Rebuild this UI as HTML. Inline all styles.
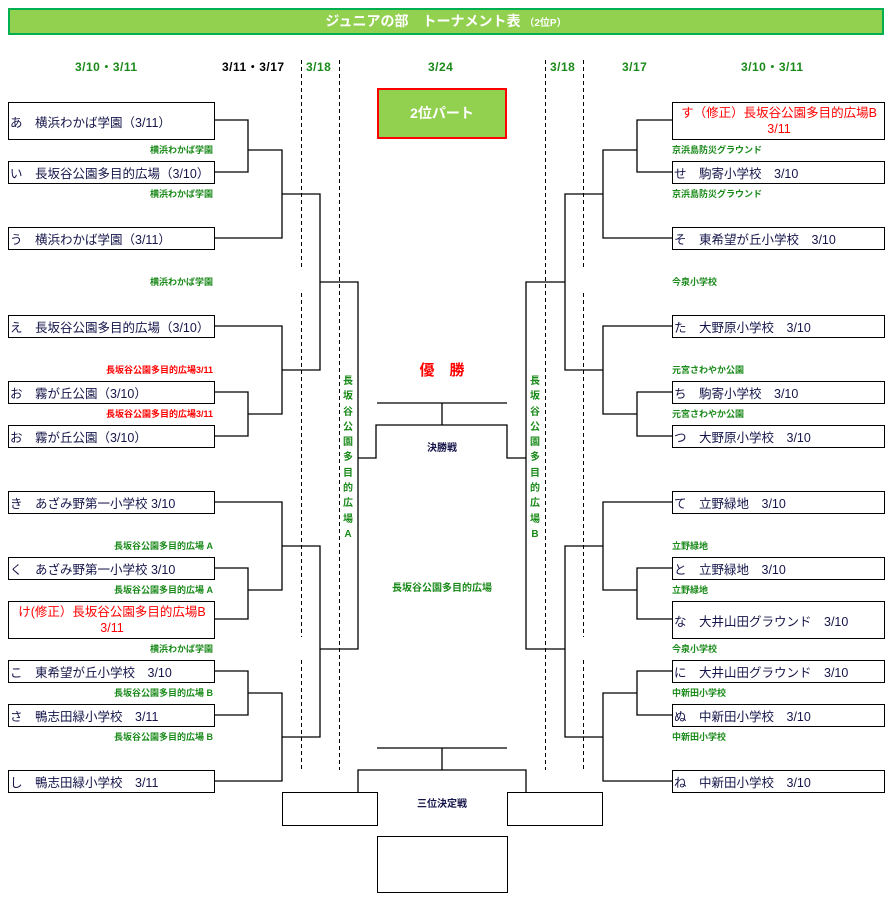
<!DOCTYPE html>
<html><head><meta charset="utf-8"><style>
body{margin:0;width:893px;height:901px;background:#fff;position:relative;overflow:hidden;font-family:"Liberation Sans","Noto Sans CJK JP",sans-serif;}
.a{position:absolute;white-space:nowrap;}
.box{position:absolute;border:1.3px solid #000;box-sizing:border-box;background:#fff;font-size:12.5px;color:#14144a;display:flex;align-items:center;padding-left:1px;white-space:nowrap;}
.two{flex-direction:column;justify-content:center;line-height:16px;text-align:center;color:#f00;}
.lg{position:absolute;font-size:9px;font-weight:bold;color:#1a8a1a;white-space:nowrap;line-height:10px;}
.ll{text-align:right;right:680px;}
.rl{left:672px;}
.red{color:#f00;}
.hd{position:absolute;top:60px;font-size:12px;line-height:14px;font-weight:bold;color:#1a8a1a;letter-spacing:0.5px;}
.vt{position:absolute;font-size:10px;font-weight:bold;color:#1a8a1a;width:14px;text-align:center;line-height:15.3px;}
</style></head><body>
<div class="a" style="left:8px;top:8px;width:876px;height:27px;box-sizing:border-box;background:#92d050;border:2px solid #00b050;color:#fff;font-weight:bold;font-size:14px;text-align:center;line-height:23px;">ジュニアの部　トーナメント表 <span style="font-size:10px">（2位P）</span></div>
<div class="hd" style="left:75px">3/10・3/11</div>
<div class="hd" style="left:222px;color:#000">3/11・3/17</div>
<div class="hd" style="left:306px">3/18</div>
<div class="hd" style="left:428px">3/24</div>
<div class="hd" style="left:550px">3/18</div>
<div class="hd" style="left:622px">3/17</div>
<div class="hd" style="left:741px">3/10・3/11</div>
<div class="a" style="left:377px;top:88px;width:130px;height:51px;box-sizing:border-box;background:#92d050;border:2px solid #f00;color:#fff;font-weight:bold;font-size:14px;text-align:center;line-height:47px;">2位パート</div>
<svg class="a" style="left:0;top:0" width="893" height="901">
<g stroke="#000" stroke-width="1" stroke-dasharray="4,3" fill="none">
<path d="M301.5 60V270M301.5 293V637M301.5 660V770M339.5 60V770M545.5 60V770M583.5 60V270M583.5 293V637M583.5 660V770"/>
</g>
<g stroke="#000" stroke-width="1.3" fill="none">
<path d="M214 120H248V172H214M248 150H282V238H214M282 194H320V370H282M320 282H358V649H320M358 458H376V425H507V458H526M377 403H507M442 403V425"/>
<path d="M214 326H282V414H248M214 392H248V436H214"/>
<path d="M214 502H282V590H248M282 546H320V737H282M214 568H248V619H214M214 671H248V715H214M248 693H282V781H214"/>
<path d="M672 120H637V172H672M637 150H603V238H672M603 194H565V370H603M565 282H526V649H565"/>
<path d="M672 326H603V414H637M672 392H637V436H672"/>
<path d="M672 502H603V590H637M603 546H565V737H603M672 568H637V619H672M672 671H637V715H672M637 693H603V781H672"/>
<path d="M377 748H507M442 748V770M358 792V770H526V792"/>
</g>
</svg>
<div class="box" style="left:282px;top:792px;width:96px;height:34px"></div>
<div class="box" style="left:507px;top:792px;width:96px;height:34px"></div>
<div class="box" style="left:377px;top:836px;width:131px;height:57px"></div>
<div class="a" style="left:402px;top:795px;width:80px;text-align:center;font-size:10px;font-weight:bold;color:#14144a">三位決定戦</div>
<div class="a" style="left:402px;top:439px;width:80px;text-align:center;font-size:10px;font-weight:bold;color:#14144a">決勝戦</div>
<div class="a" style="left:392px;top:359px;width:100px;text-align:center;font-size:15px;font-weight:bold;color:#f00">優　勝</div>
<div class="a" style="left:372px;top:579px;width:140px;text-align:center;font-size:10px;font-weight:bold;color:#1a8a1a">長坂谷公園多目的広場</div>
<div class="vt" style="left:341px;top:374px">長<br>坂<br>谷<br>公<br>園<br>多<br>目<br>的<br>広<br>場<br>A</div>
<div class="vt" style="left:528px;top:374px">長<br>坂<br>谷<br>公<br>園<br>多<br>目<br>的<br>広<br>場<br>B</div>

<div class="box" style="left:8px;top:102px;width:207px;height:38px">あ　横浜わかば学園（3/11）</div>
<div class="box" style="left:8px;top:161px;width:207px;height:23px">い　長坂谷公園多目的広場（3/10）</div>
<div class="box" style="left:8px;top:227px;width:207px;height:23px">う　横浜わかば学園（3/11）</div>
<div class="box" style="left:8px;top:315px;width:207px;height:23px">え　長坂谷公園多目的広場（3/10）</div>
<div class="box" style="left:8px;top:381px;width:207px;height:23px">お　霧が丘公園（3/10）</div>
<div class="box" style="left:8px;top:425px;width:207px;height:23px">お　霧が丘公園（3/10）</div>
<div class="box" style="left:8px;top:491px;width:207px;height:23px">き　あざみ野第一小学校 3/10</div>
<div class="box" style="left:8px;top:557px;width:207px;height:23px">く　あざみ野第一小学校 3/10</div>
<div class="box two" style="left:8px;top:601px;width:207px;height:38px;">け(修正）長坂谷公園多目的広場B<br>3/11</div>
<div class="box" style="left:8px;top:660px;width:207px;height:23px">こ　東希望が丘小学校　3/10</div>
<div class="box" style="left:8px;top:704px;width:207px;height:23px">さ　鴨志田緑小学校　3/11</div>
<div class="box" style="left:8px;top:770px;width:207px;height:23px">し　鴨志田緑小学校　3/11</div>

<div class="box two" style="left:672px;top:102px;width:213px;height:38px;">す（修正）長坂谷公園多目的広場B<br>3/11</div>
<div class="box" style="left:672px;top:161px;width:213px;height:23px">せ　駒寄小学校　3/10</div>
<div class="box" style="left:672px;top:227px;width:213px;height:23px">そ　東希望が丘小学校　3/10</div>
<div class="box" style="left:672px;top:315px;width:213px;height:23px">た　大野原小学校　3/10</div>
<div class="box" style="left:672px;top:381px;width:213px;height:23px">ち　駒寄小学校　3/10</div>
<div class="box" style="left:672px;top:425px;width:213px;height:23px">つ　大野原小学校　3/10</div>
<div class="box" style="left:672px;top:491px;width:213px;height:23px">て　立野緑地　3/10</div>
<div class="box" style="left:672px;top:557px;width:213px;height:23px">と　立野緑地　3/10</div>
<div class="box" style="left:672px;top:601px;width:213px;height:38px">な　大井山田グラウンド　3/10</div>
<div class="box" style="left:672px;top:660px;width:213px;height:23px">に　大井山田グラウンド　3/10</div>
<div class="box" style="left:672px;top:704px;width:213px;height:23px">ぬ　中新田小学校　3/10</div>
<div class="box" style="left:672px;top:770px;width:213px;height:23px">ね　中新田小学校　3/10</div>

<div class="lg ll" style="top:145px">横浜わかば学園</div>
<div class="lg ll" style="top:189px">横浜わかば学園</div>
<div class="lg ll" style="top:277px">横浜わかば学園</div>
<div class="lg ll red" style="top:365px">長坂谷公園多目的広場3/11</div>
<div class="lg ll red" style="top:409px">長坂谷公園多目的広場3/11</div>
<div class="lg ll" style="top:541px">長坂谷公園多目的広場 A</div>
<div class="lg ll" style="top:585px">長坂谷公園多目的広場 A</div>
<div class="lg ll" style="top:644px">横浜わかば学園</div>
<div class="lg ll" style="top:688px">長坂谷公園多目的広場 B</div>
<div class="lg ll" style="top:732px">長坂谷公園多目的広場 B</div>

<div class="lg rl" style="top:145px">京浜島防災グラウンド</div>
<div class="lg rl" style="top:189px">京浜島防災グラウンド</div>
<div class="lg rl" style="top:277px">今泉小学校</div>
<div class="lg rl" style="top:365px">元宮さわやか公園</div>
<div class="lg rl" style="top:409px">元宮さわやか公園</div>
<div class="lg rl" style="top:541px">立野緑地</div>
<div class="lg rl" style="top:585px">立野緑地</div>
<div class="lg rl" style="top:644px">今泉小学校</div>
<div class="lg rl" style="top:688px">中新田小学校</div>
<div class="lg rl" style="top:732px">中新田小学校</div>
</body></html>
